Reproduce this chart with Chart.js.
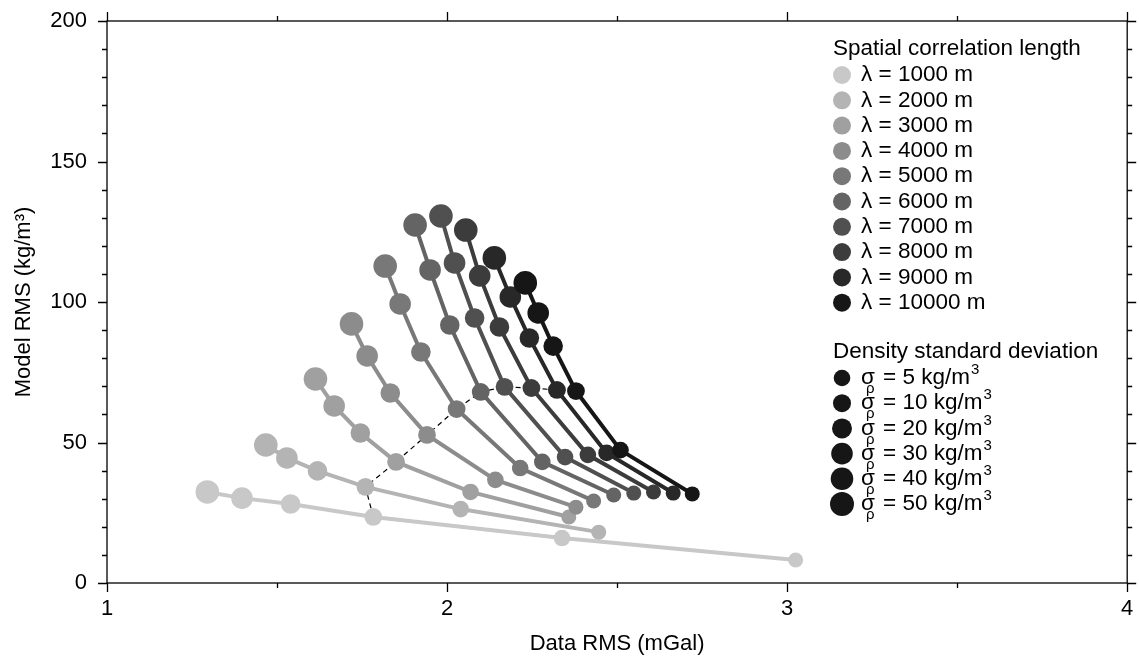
<!DOCTYPE html>
<html>
<head>
<meta charset="utf-8">
<title>Data RMS vs Model RMS</title>
<script src="https://cdn.jsdelivr.net/npm/chart.js@4.4.1/dist/chart.umd.min.js"></script>
<style>
  html, body { margin: 0; padding: 0; background: #fff; }
  canvas { display: block; }
</style>
</head>
<body>
<canvas id="rmsChart" width="1139" height="657"></canvas>
<script>
// Spatial correlation lengths (m) and density standard deviations (kg/m3)
const lambdas = [1000, 2000, 3000, 4000, 5000, 6000, 7000, 8000, 9000, 10000];
const sigmas = [5, 10, 20, 30, 40, 50];

// Data RMS (mGal) and model RMS (kg/m3) per lambda, ordered sigma 5 -> 50
const dataRmsL1000 = [3.025, 2.338, 1.783, 1.540, 1.397, 1.295];
const modelRmsL1000 = [8.2, 16.0, 23.5, 28.1, 30.2, 32.4];
const dataRmsL2000 = [2.446, 2.040, 1.760, 1.619, 1.529, 1.467];
const modelRmsL2000 = [18.1, 26.3, 34.2, 39.9, 44.5, 49.1];
const dataRmsL3000 = [2.358, 2.069, 1.850, 1.745, 1.668, 1.613];
const modelRmsL3000 = [23.5, 32.4, 43.1, 53.4, 63.0, 72.6];
const dataRmsL4000 = [2.379, 2.142, 1.941, 1.833, 1.765, 1.719];
const modelRmsL4000 = [27.0, 36.7, 52.7, 67.6, 80.8, 92.2];
const dataRmsL5000 = [2.431, 2.215, 2.028, 1.923, 1.862, 1.818];
const modelRmsL5000 = [29.2, 40.9, 61.9, 82.2, 99.3, 112.8];
const dataRmsL6000 = [2.490, 2.280, 2.099, 2.008, 1.950, 1.906];
const modelRmsL6000 = [31.3, 43.1, 68.0, 91.8, 111.4, 127.4];
const dataRmsL7000 = [2.549, 2.347, 2.169, 2.081, 2.022, 1.982];
const modelRmsL7000 = [32.0, 44.8, 69.8, 94.3, 113.9, 130.6];
const dataRmsL8000 = [2.607, 2.414, 2.248, 2.154, 2.096, 2.055];
const modelRmsL8000 = [32.4, 45.6, 69.4, 91.1, 109.3, 125.6];
const dataRmsL9000 = [2.665, 2.469, 2.323, 2.242, 2.186, 2.139];
const modelRmsL9000 = [32.0, 46.3, 68.7, 87.2, 101.8, 115.7];
const dataRmsL10000 = [2.721, 2.510, 2.379, 2.312, 2.268, 2.230];
const modelRmsL10000 = [31.7, 47.3, 68.3, 84.3, 96.1, 106.8];

// Labelled tick values
const xTicks = [1, 2, 3, 4];
const yTicks = [0, 50, 100, 150, 200];

const dataRms = [dataRmsL1000, dataRmsL2000, dataRmsL3000, dataRmsL4000, dataRmsL5000,
                 dataRmsL6000, dataRmsL7000, dataRmsL8000, dataRmsL9000, dataRmsL10000];
const modelRms = [modelRmsL1000, modelRmsL2000, modelRmsL3000, modelRmsL4000, modelRmsL5000,
                  modelRmsL6000, modelRmsL7000, modelRmsL8000, modelRmsL9000, modelRmsL10000];

// Styles
const FONT = "'Liberation Sans', Arial, Helvetica, sans-serif";
const greys = ['#c8c8c8', '#b4b4b4', '#a0a0a0', '#8c8c8c', '#787878',
               '#646464', '#505050', '#3c3c3c', '#282828', '#161616'];
const pointRadii = [7.5, 8.3, 8.9, 9.8, 10.8, 11.8];

const datasets = lambdas.map((lam, i) => ({
    label: 'λ = ' + lam + ' m',
    data: dataRms[i].map((x, j) => ({ x: x, y: modelRms[i][j] })),
    showLine: true,
    borderColor: greys[i],
    backgroundColor: greys[i],
    borderWidth: 4,
    pointRadius: pointRadii,
    pointHoverRadius: pointRadii,
    pointBorderWidth: 0,
    order: lambdas.length - i // darker curves on top
}));

// dashed line through the sigma = 20 points
const s20 = sigmas.indexOf(20);
datasets.push({
    label: 'sigma20',
    data: dataRms.map((xs, i) => ({ x: xs[s20], y: modelRms[i][s20] })),
    showLine: true,
    borderColor: '#000',
    borderWidth: 1.2,
    borderDash: [5, 4],
    pointRadius: 0,
    order: 100
});

// frame with outward ticks on all four sides
const frameTicks = {
    id: 'frameTicks',
    afterDraw(chart) {
        const { ctx, chartArea: a, scales: { x, y } } = chart;
        ctx.save();
        ctx.strokeStyle = '#000';
        ctx.lineWidth = 1.3;
        ctx.strokeRect(a.left, a.top, a.right - a.left, a.bottom - a.top);
        ctx.beginPath();
        for (let v = 1; v <= 4.0001; v += 0.5) {
            const px = Math.round(x.getPixelForValue(v)) + 0.5;
            const len = xTicks.includes(v) ? 9 : 5;
            ctx.moveTo(px, a.bottom); ctx.lineTo(px, a.bottom + len);
            ctx.moveTo(px, a.top); ctx.lineTo(px, a.top - len);
        }
        for (let v = 0; v <= 200; v += 10) {
            const py = Math.round(y.getPixelForValue(v)) + 0.5;
            const len = yTicks.includes(v) ? 9 : 5;
            ctx.moveTo(a.left, py); ctx.lineTo(a.left - len, py);
            ctx.moveTo(a.right, py); ctx.lineTo(a.right + len, py);
        }
        ctx.stroke();
        ctx.restore();
    }
};

// custom two-part legend
const legendBox = {
    id: 'legendBox',
    afterDraw(chart) {
        const ctx = chart.ctx;
        ctx.save();
        ctx.fillStyle = '#000';
        ctx.textBaseline = 'middle';
        ctx.textAlign = 'left';
        ctx.font = '22.5px ' + FONT;
        ctx.fillText('Spatial correlation length', 833, 49);
        lambdas.forEach((lam, i) => {
            const yy = 75 + i * 25.3;
            ctx.fillStyle = greys[i];
            ctx.beginPath();
            ctx.arc(842, yy, 9, 0, Math.PI * 2);
            ctx.fill();
            ctx.fillStyle = '#000';
            ctx.font = '22.5px ' + FONT;
            ctx.fillText('λ = ' + lam + ' m', 861, yy);
        });

        ctx.fillText('Density standard deviation', 833, 352);
        const legRadii = [8.3, 9, 10, 10.8, 11.3, 12];
        sigmas.forEach((s, i) => {
            const yy = 378 + i * 25.2;
            ctx.fillStyle = '#161616';
            ctx.beginPath();
            ctx.arc(842, yy, legRadii[i], 0, Math.PI * 2);
            ctx.fill();
            ctx.fillStyle = '#000';
            ctx.font = '22.5px ' + FONT;
            ctx.fillText('σ', 861, yy);
            ctx.font = '15px ' + FONT;
            ctx.fillText('ρ', 866, yy + 11);
            ctx.font = '22.5px ' + FONT;
            const txt = '= ' + s + ' kg/m';
            ctx.fillText(txt, 883, yy);
            const w = ctx.measureText(txt).width;
            ctx.font = '15px ' + FONT;
            ctx.fillText('3', 883 + w + 1, yy - 8);
        });
        ctx.restore();
    }
};

new Chart(document.getElementById('rmsChart'), {
    type: 'scatter',
    data: { datasets: datasets },
    options: {
        responsive: false,
        animation: false,
        events: [],
        layout: { padding: { top: 21, right: 5, left: 0, bottom: 0 } },
        plugins: {
            legend: { display: false },
            tooltip: { enabled: false }
        },
        elements: { line: { tension: 0 } },
        scales: {
            x: {
                type: 'linear',
                min: 1,
                max: 4,
                // fixed axis box, no extra room for overhanging end labels
                afterFit: s => { s.height = 74; s.paddingLeft = 0; s.paddingRight = 0; },
                grid: { display: false, drawTicks: false },
                border: { display: false },
                ticks: {
                    stepSize: 1,
                    padding: 13,
                    color: '#000',
                    maxRotation: 0,
                    font: { size: 22, family: FONT }
                },
                title: {
                    display: true,
                    text: 'Data RMS (mGal)',
                    color: '#000',
                    font: { size: 22, family: FONT },
                    padding: { top: 0, bottom: 0 }
                }
            },
            y: {
                type: 'linear',
                min: 0,
                max: 200,
                afterFit: s => { s.width = 107; s.paddingTop = 0; s.paddingBottom = 0; },
                grid: { display: false, drawTicks: false },
                border: { display: false },
                ticks: {
                    stepSize: 50,
                    padding: 20,
                    color: '#000',
                    font: { size: 22, family: FONT }
                },
                title: {
                    display: true,
                    text: 'Model RMS (kg/m³)',
                    color: '#000',
                    font: { size: 22, family: FONT },
                    padding: { top: 11, bottom: 0 }
                }
            }
        }
    },
    plugins: [frameTicks, legendBox]
});
</script>
</body>
</html>
